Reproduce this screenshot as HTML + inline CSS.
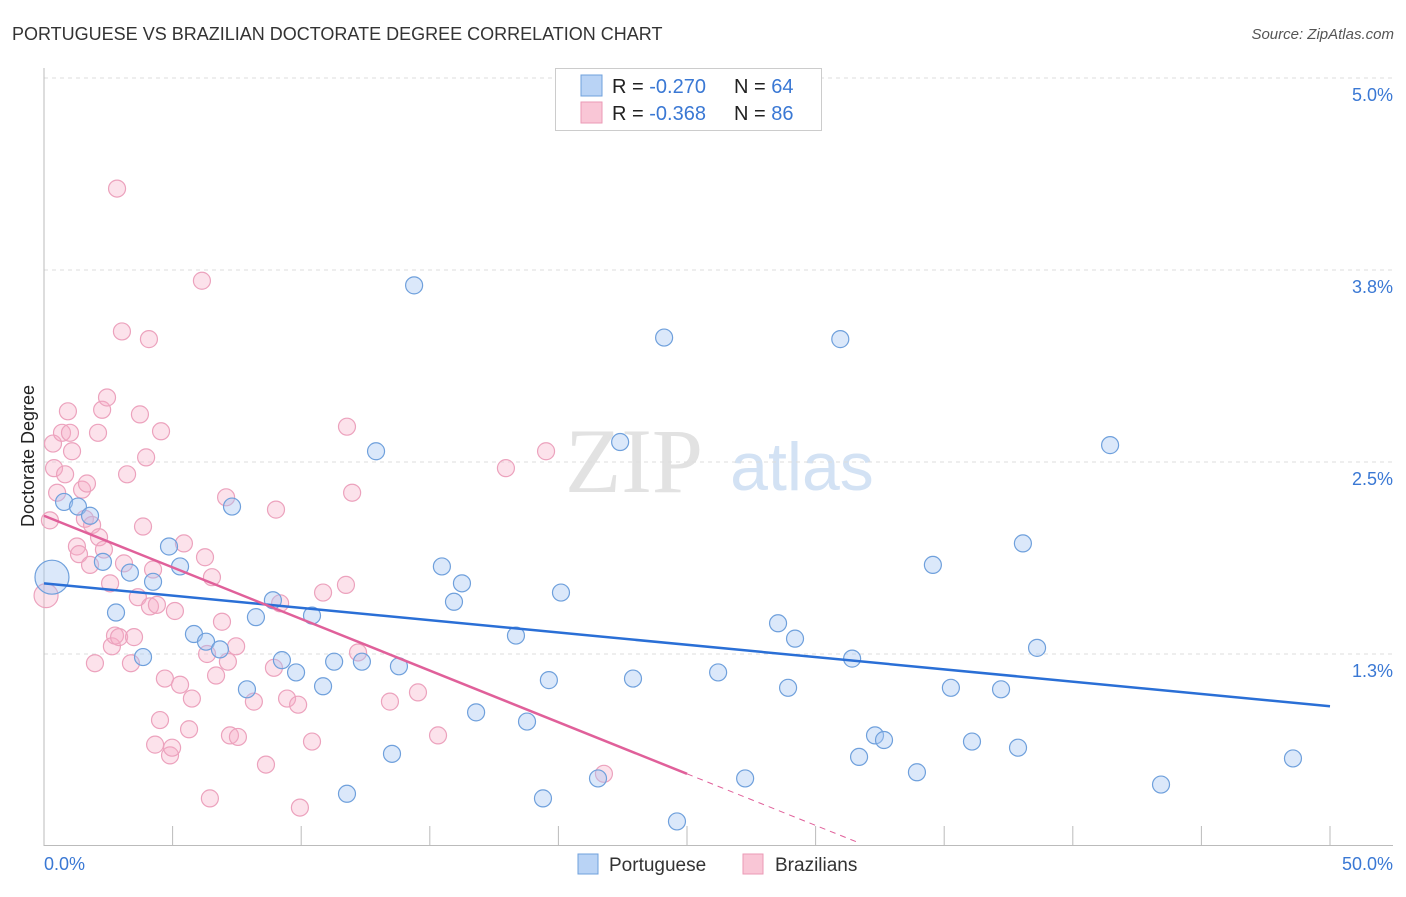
<!DOCTYPE html>
<html><head><meta charset="utf-8"><style>
body{margin:0;background:#fff;font-family:"Liberation Sans",sans-serif;}
</style></head><body>
<svg id="chart" width="1406" height="892" xmlns="http://www.w3.org/2000/svg">
<text x="12" y="40" font-size="18" fill="#333">PORTUGUESE VS BRAZILIAN DOCTORATE DEGREE CORRELATION CHART</text>
<text x="1394" y="39" font-size="15" fill="#555" font-style="italic" text-anchor="end">Source: ZipAtlas.com</text>
<text x="34" y="456" font-size="18" fill="#222" text-anchor="middle" transform="rotate(-90 34 456)">Doctorate Degree</text>
<g>
<text x="634" y="492" font-size="92" fill="#e2e2e2" font-family="Liberation Serif,serif" text-anchor="middle">ZIP</text>
<text x="802" y="490" font-size="68" fill="#d3e2f4" text-anchor="middle">atlas</text>
</g>
<g id="grid"></g><g id="axes"></g><g id="pts"></g><g id="lines"></g>
<g>
<rect x="555.5" y="68.5" width="266" height="62" fill="#fff" stroke="#ccc"/>
<rect x="581" y="75" width="21" height="21" fill="#b9d3f5" stroke="#6fa0dc"/>
<rect x="581" y="102" width="21" height="21" fill="#f9c6d6" stroke="#eb9ab6"/>
<text x="612" y="93" font-size="20" fill="#222">R = <tspan fill="#3a78d4">-0.270</tspan><tspan x="734">N = </tspan><tspan fill="#3a78d4">64</tspan></text>
<text x="612" y="120" font-size="20" fill="#222">R = <tspan fill="#3a78d4">-0.368</tspan><tspan x="734">N = </tspan><tspan fill="#3a78d4">86</tspan></text>
</g>
<g>
<rect x="578" y="854" width="20" height="20" fill="#b9d3f5" stroke="#6fa0dc"/>
<text x="609" y="871" font-size="19" fill="#333">Portuguese</text>
<rect x="743" y="854" width="20" height="20" fill="#f9c6d6" stroke="#eb9ab6"/>
<text x="775" y="871" font-size="19" fill="#333">Brazilians</text>
</g>
</svg>
<script>
const yTicks=[1.25,2.5,3.75,5.0];
const yTickLabels=["1.3%","2.5%","3.8%","5.0%"];
const xTicks=[0,5,10,15,20,25,30,35,40,45,50];
const blueX=[0.31,0.78,1.32,1.79,2.29,2.80,3.34,3.85,4.24,4.86,5.29,5.83,6.30,6.84,7.31,7.89,8.24,8.90,9.25,9.80,10.42,10.85,11.28,11.78,12.36,12.91,13.53,13.80,14.39,15.47,15.94,16.25,16.80,18.35,18.78,19.40,19.63,20.10,21.54,22.40,22.90,24.11,24.61,26.21,27.26,28.54,28.93,29.20,30.96,31.42,31.69,32.31,32.66,33.94,34.56,35.26,36.08,37.21,37.87,38.06,38.61,41.45,43.43,48.56];
const blueY=[1.75,2.24,2.21,2.15,1.85,1.52,1.78,1.23,1.72,1.95,1.82,1.38,1.33,1.28,2.21,1.02,1.49,1.60,1.21,1.13,1.50,1.04,1.20,0.34,1.20,2.57,0.60,1.17,3.65,1.82,1.59,1.71,0.87,1.37,0.81,0.31,1.08,1.65,0.44,2.63,1.09,3.31,0.16,1.13,0.44,1.45,1.03,1.35,3.30,1.22,0.58,0.72,0.69,0.48,1.83,1.03,0.68,1.02,0.64,1.97,1.29,2.61,0.40,0.57];
const pinkX=[0.08,0.23,0.35,0.39,0.51,0.70,0.82,0.93,1.01,1.09,1.28,1.36,1.48,1.59,1.67,1.79,1.87,1.98,2.10,2.14,2.26,2.33,2.45,2.57,2.64,2.76,2.84,2.92,3.03,3.11,3.23,3.38,3.50,3.65,3.73,3.85,3.97,4.08,4.12,4.24,4.32,4.39,4.51,4.55,4.70,4.90,4.98,5.09,5.29,5.44,5.64,5.75,6.14,6.26,6.34,6.45,6.53,6.69,6.92,7.08,7.15,7.23,7.47,7.54,8.16,8.63,8.94,9.02,9.18,9.45,9.88,9.95,10.42,10.85,11.74,11.78,11.98,12.21,13.45,14.54,15.32,17.96,19.52,21.77];
const pinkY=[1.63,2.12,2.62,2.46,2.30,2.69,2.42,2.83,2.69,2.57,1.95,1.90,2.32,2.13,2.36,1.83,2.09,1.19,2.69,2.01,2.84,1.93,2.92,1.71,1.30,1.37,4.28,1.36,3.35,1.84,2.42,1.19,1.36,1.62,2.81,2.08,2.53,3.30,1.56,1.80,0.66,1.57,0.82,2.70,1.09,0.59,0.64,1.53,1.05,1.97,0.76,0.96,3.68,1.88,1.25,0.31,1.75,1.11,1.46,2.27,1.20,0.72,1.30,0.71,0.94,0.53,1.16,2.19,1.58,0.96,0.92,0.25,0.68,1.65,1.70,2.73,2.30,1.26,0.94,1.00,0.72,2.46,2.57,0.47];
const blueTrend=[1.71,0.91];
const pinkTrend=[2.15,-0.0672];
const NS="http://www.w3.org/2000/svg";
const X=v=>44+v*25.72, Y=v=>846-v*153.6;
function mk(p,t,a){const e=document.createElementNS(NS,t);for(const k in a)e.setAttribute(k,a[k]);p.appendChild(e);return e;}
const grid=document.getElementById('grid'),axes=document.getElementById('axes'),pts=document.getElementById('pts'),lines=document.getElementById('lines');
yTicks.forEach((t,i)=>{
 const l=mk(grid,'line',{x1:44,x2:1393,y1:Y(t),y2:Y(t),stroke:'#ddd','stroke-dasharray':'4,4'});
 
 
 const tx=mk(axes,'text',{x:1393,y:Y(t)+23,'font-size':18,fill:'#3a78d4','text-anchor':'end'});
 tx.textContent=yTickLabels[i];
 
 
});
const ax=mk(axes,'line',{x1:44,x2:44,y1:68,y2:846,stroke:'#bbb'});


const bx=mk(axes,'line',{x1:44,x2:1393,y1:845.5,y2:845.5,stroke:'#bbb'});


xTicks.forEach(t=>{
 const l=mk(axes,'line',{x1:X(t),x2:X(t),y1:826,y2:846,stroke:'#bbb'});
 
 
});
[[0,'0.0%','start',44],[50,'50.0%','end',1393]].forEach(d=>{
 const tx=mk(axes,'text',{x:d[3],y:870,'font-size':18,fill:'#3a78d4','text-anchor':d[2]});
 tx.textContent=d[1];
 
 
});
pinkX.forEach((x,i)=>{
 const c=mk(pts,'circle',{cx:X(x),cy:Y(pinkY[i]),r:i==0?12:8.5,fill:'rgba(246,172,198,0.35)',stroke:'#eca2bd','stroke-width':1.2});
 
 
});
blueX.forEach((x,i)=>{
 const c=mk(pts,'circle',{cx:X(x),cy:Y(blueY[i]),r:i==0?17:8.5,fill:'rgba(165,198,242,0.4)',stroke:'#6fa0dc','stroke-width':1.2});
 
 
});
const bl=mk(lines,'line',{x1:X(0),y1:Y(blueTrend[0]),x2:X(50),y2:Y(blueTrend[1]),stroke:'#2a6fd6','stroke-width':2.5});


const pf=x=>pinkTrend[0]+pinkTrend[1]*x;
const pl=mk(lines,'line',{x1:X(0),y1:Y(pf(0)),x2:X(25),y2:Y(pf(25)),stroke:'#e0609a','stroke-width':2.5});


const pd=mk(lines,'line',{x1:X(25),y1:Y(pf(25)),x2:X(31.6),y2:Y(pf(31.6)),stroke:'#e0609a','stroke-width':1,'stroke-dasharray':'6,5'});


</script>
</body></html>
